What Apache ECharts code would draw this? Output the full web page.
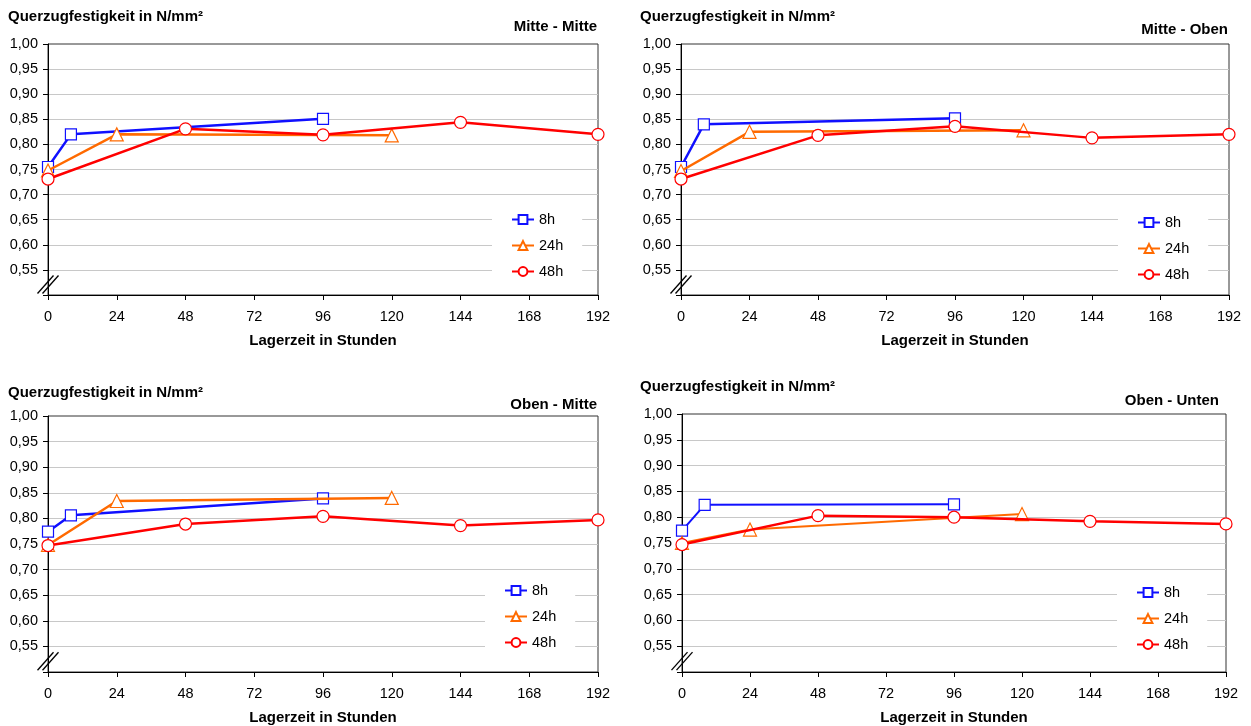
<!DOCTYPE html>
<html>
<head>
<meta charset="utf-8">
<script src="https://cdn.jsdelivr.net/npm/echarts@6/dist/echarts.min.js"></script>
<style>html,body{margin:0;padding:0;background:#fff}#c{width:1251px;height:726px}</style>
</head>
<body>
<div id="c"></div>
<script>
// ---- data ----
const panelNames = ['Mitte - Mitte', 'Mitte - Oben', 'Oben - Mitte', 'Oben - Unten'];
const seriesNames = ['8h', '24h', '48h'];
const yTitle = 'Querzugfestigkeit in N/mm²';
const xTitle = 'Lagerzeit in Stunden';
const xTickValues = [0, 24, 48, 72, 96, 120, 144, 168, 192];
const yTickLabels = ['0,55', '0,60', '0,65', '0,70', '0,75', '0,80', '0,85', '0,90', '0,95', '1,00'];

const hours8h = [0, 8, 96];
const hours24h = [0, 24, 120];
const hours48h = [0, 48, 96, 144, 192];

const mitteMitte8h = [0.755, 0.820, 0.851];
const mitteMitte24h = [0.748, 0.820, 0.818];
const mitteMitte48h = [0.731, 0.831, 0.819, 0.844, 0.820];

const mitteOben8h = [0.755, 0.840, 0.852];
const mitteOben24h = [0.747, 0.825, 0.828];
const mitteOben48h = [0.731, 0.818, 0.836, 0.813, 0.820];

const obenMitte8h = [0.774, 0.806, 0.839];
const obenMitte24h = [0.748, 0.834, 0.840];
const obenMitte48h = [0.747, 0.789, 0.804, 0.786, 0.797];

const obenUnten8h = [0.774, 0.824, 0.825];
const obenUnten24h = [0.750, 0.776, 0.806];
const obenUnten48h = [0.747, 0.803, 0.800, 0.792, 0.787];

// ---- styling / layout ----
const FONT = '"Liberation Sans", Arial, Helvetica, sans-serif';
const colors = ['#1010ff', '#ff6a00', '#ff0000'];
const symbols = ['rect', 'triangle', 'circle'];
const symbolSizes = [11, 13, 12];
const hourSets = [hours8h, hours24h, hours48h];
const panelValues = [
  [mitteMitte8h, mitteMitte24h, mitteMitte48h],
  [mitteOben8h, mitteOben24h, mitteOben48h],
  [obenMitte8h, obenMitte24h, obenMitte48h],
  [obenUnten8h, obenUnten24h, obenUnten48h]
];
const grids = [
  {left: 48, top: 44, width: 550, height: 251},
  {left: 681, top: 44, width: 548, height: 251},
  {left: 48, top: 416, width: 550, height: 256},
  {left: 682, top: 414, width: 544, height: 258}
];
const yTitlePos = [{left: 8, top: 9}, {left: 640, top: 9}, {left: 8, top: 385}, {left: 640, top: 379}];
const panelTitlePos = [{right: 654, top: 19}, {right: 23, top: 22}, {right: 654, top: 397}, {right: 32, top: 393}];
const legendPos = [{left: 492, top: 202}, {left: 1118, top: 205}, {left: 485, top: 573}, {left: 1117, top: 575}];

const chart = echarts.init(document.getElementById('c'), null, {renderer: 'canvas'});

const option = {
  animation: false,
  backgroundColor: '#fff',
  textStyle: {fontFamily: FONT},
  title: [],
  legend: [],
  grid: [],
  xAxis: [],
  yAxis: [],
  series: []
};

grids.forEach((g, i) => {
  option.grid.push(Object.assign({show: true, borderColor: '#333', borderWidth: 1, backgroundColor: 'transparent'}, g));
  option.title.push(Object.assign({text: yTitle, padding: 0, textStyle: {fontFamily: FONT, fontSize: 15, fontWeight: 'bold', color: '#000'}}, yTitlePos[i]));
  option.title.push(Object.assign({text: panelNames[i], padding: 0, textStyle: {fontFamily: FONT, fontSize: 15, fontWeight: 'bold', color: '#000'}}, panelTitlePos[i]));
  option.xAxis.push({
    gridIndex: i, type: 'value', min: xTickValues[0], max: xTickValues[xTickValues.length - 1], interval: 24,
    axisLine: {show: true, onZero: false, lineStyle: {color: '#000', width: 1}},
    axisTick: {show: true, length: 5, lineStyle: {color: '#000'}},
    axisLabel: {margin: 14, fontSize: 14.5, color: '#000', fontFamily: FONT},
    splitLine: {show: false},
    name: xTitle, nameLocation: 'middle', nameGap: 38,
    nameTextStyle: {fontFamily: FONT, fontSize: 15, fontWeight: 'bold', color: '#000'}
  });
  option.yAxis.push({
    gridIndex: i, type: 'value', min: 0.5, max: 1.0, interval: 0.05,
    axisLine: {show: true, lineStyle: {color: '#000', width: 1}},
    axisTick: {show: true, length: 5, lineStyle: {color: '#000'}},
    axisLabel: {
      margin: 10, fontSize: 14.5, color: '#000', fontFamily: FONT,
      formatter: v => {
        const idx = Math.round((v - 0.55) / 0.05);
        return (idx >= 0 && idx < yTickLabels.length) ? yTickLabels[idx] : '';
      }
    },
    splitLine: {show: true, showMinLine: false, showMaxLine: false, lineStyle: {color: '#c8c8c8', width: 1}}
  });
  option.legend.push(Object.assign({
    orient: 'vertical', data: seriesNames, backgroundColor: '#fff',
    padding: [10, 19, 6, 19], itemGap: 11, itemWidth: 22, itemHeight: 11,
    textStyle: {fontFamily: FONT, fontSize: 14.5, color: '#000'},
    selectedMode: false
  }, legendPos[i]));
  seriesNames.forEach((name, s) => {
    option.series.push({
      name: name, type: 'line', xAxisIndex: i, yAxisIndex: i,
      data: hourSets[s].map((h, k) => [h, panelValues[i][s][k]]),
      symbol: symbols[s], symbolSize: symbolSizes[s], showAllSymbol: true,
      lineStyle: {color: colors[s], width: i === 3 && s < 2 ? 2 : 2.5},
      itemStyle: {color: '#fff', borderColor: colors[s], borderWidth: 1.2},
      emphasis: {disabled: true},
      z: 3 + s
    });
  });
});

chart.setOption(option);

// axis-break marks "//" near the bottom of each y axis
const breaks = [];
grids.forEach((g, i) => {
  const p0 = chart.convertToPixel({gridIndex: i}, [0, 0.5]);
  const p1 = chart.convertToPixel({gridIndex: i}, [0, 0.55]);
  const cx = p0[0];
  const cy = p0[1] - (p0[1] - p1[1]) * 0.42;
  [-2.5, 2.5].forEach(dx => {
    breaks.push({
      type: 'line', z: 100,
      shape: {x1: cx - 8 + dx, y1: cy + 9, x2: cx + 8 + dx, y2: cy - 9},
      style: {stroke: '#000', lineWidth: 1.3}
    });
  });
});
chart.setOption({graphic: breaks});
</script>
</body>
</html>
